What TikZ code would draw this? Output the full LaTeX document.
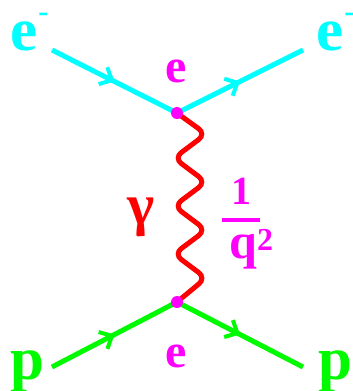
\documentclass[tikz,border=0pt]{standalone}
\usepackage{fontspec}
\setmainfont{Liberation Serif}
\usetikzlibrary{arrows.meta,decorations.markings}
\definecolor{ecyan}{RGB}{0,255,255}
\definecolor{pgreen}{RGB}{0,250,0}
\definecolor{vmag}{RGB}{255,0,255}
\definecolor{gred}{RGB}{255,0,0}
\begin{document}
\begin{tikzpicture}[x=1pt,y=-1pt,
  fermion/.style={line width=5pt, postaction={decorate},
    decoration={markings, mark=at position 0.5 with {\arrow{Straight Barb[length=10pt,width=19pt,line width=4pt]}}}},
  photon/.style={gred, line width=5pt, rounded corners=9pt, line cap=round},
  vdot/.style={circle, fill=vmag, inner sep=0pt, minimum size=12pt},
  lbl/.style={inner sep=0pt, font=\bfseries\fontsize{61}{61}\selectfont},
  slbl/.style={inner sep=0pt, font=\bfseries\fontsize{48}{48}\selectfont}]
\useasboundingbox (0,0) rectangle (353,391);
\coordinate (v1) at (177,113);
\coordinate (v2) at (177,302);
\coordinate (ein) at (52,50);
\coordinate (eout) at (303,50);
\coordinate (pin) at (52,367);
\coordinate (pout) at (303,367);
% fermion lines
\draw[fermion, ecyan] (ein) -- (v1);
\draw[fermion, ecyan] (v1) -- (eout);
\draw[fermion, pgreen] (pin) -- (v2);
\draw[fermion, pgreen] (v2) -- (pout);
% photon
\draw[photon] (v1) -- (206,134) -- (174,158) -- (206,182) -- (174,206) -- (206,230) -- (174,254) -- (206,278) -- (v2);
% vertices
\node[vdot] (d1) at (v1) {};
\node[vdot] (d2) at (v2) {};
% labels
\node[lbl, ecyan, anchor=base west] (el) at (10,50) {e\kern1pt\raisebox{0.47em}{\fontsize{30}{30}\selectfont -}};
\node[lbl, ecyan, anchor=base west] (er) at (316,50) {e\kern1pt\raisebox{0.47em}{\fontsize{30}{30}\selectfont -}};
\node[slbl, vmag] (e1) at (176,71) {e};
\node[slbl, vmag] (e2) at (176,356) {e};
\node[lbl, pgreen, anchor=base west] (pl) at (10,379) {p};
\node[lbl, pgreen, anchor=base west] (pr) at (318,379) {p};
\node[inner sep=0pt, gred, font=\bfseries\fontsize{58}{58}\selectfont] (g) at (141,217) {γ};
\node[inner sep=0pt, vmag, font=\bfseries\fontsize{40}{40}\selectfont, anchor=base] (one) at (241,204) {1};
\draw[vmag, line width=4pt] (222,220) -- (260,220);
\node[inner sep=0pt, vmag, font=\bfseries\fontsize{50}{50}\selectfont, anchor=base west] (q) at (229,258) {q\raisebox{0.16em}{\fontsize{32}{32}\selectfont 2}};
\end{tikzpicture}
\end{document}
